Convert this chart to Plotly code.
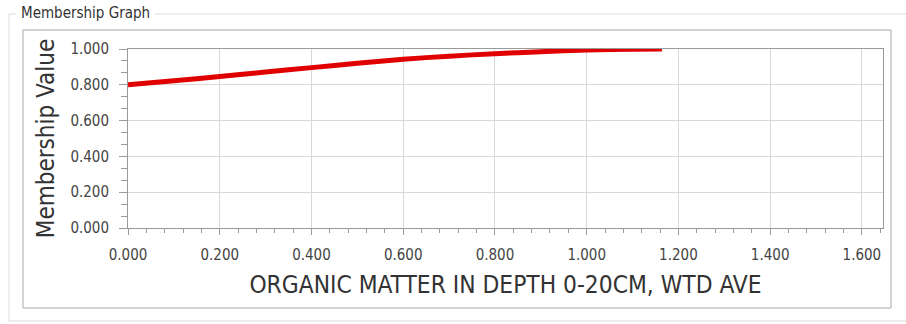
import plotly.graph_objects as go

# Data
organic_matter = [0.0, 0.1, 0.2, 0.3, 0.4, 0.5, 0.6, 0.7, 0.8, 0.9, 1.0, 1.1, 1.164]
membership = [0.800, 0.822, 0.846, 0.871, 0.896, 0.920, 0.943, 0.960, 0.974, 0.985, 0.994, 0.999, 1.000]

x_ticks = [0.0, 0.2, 0.4, 0.6, 0.8, 1.0, 1.2, 1.4, 1.6]
x_tick_labels = ["0.000", "0.200", "0.400", "0.600", "0.800", "1.000", "1.200", "1.400", "1.600"]
y_ticks = [0.0, 0.2, 0.4, 0.6, 0.8, 1.0]
y_tick_labels = ["0.000", "0.200", "0.400", "0.600", "0.800", "1.000"]

W, H = 906, 324
ML, MR, MT, MB = 128, 23, 49, 96
PW, PH = W - ML - MR, H - MT - MB
FONT = "DejaVu Sans Condensed, Liberation Sans"


def px(x):
    return (x - ML) / PW


def py(y):
    return (H - MB - y) / PH


fig = go.Figure()
fig.add_trace(go.Scatter(
    x=organic_matter, y=membership, mode="lines",
    line=dict(color="#e00000", width=5, shape="spline", smoothing=0.5),
    showlegend=False, hoverinfo="skip",
))

axis_common = dict(
    showline=True, linecolor="#9a9a9a", linewidth=1, mirror=True,
    showgrid=True, gridcolor="#d8d8d8", gridwidth=1, zeroline=False,
    ticks="outside", tickcolor="#9a9a9a",
    tickfont=dict(family=FONT, size=15, color="#444444"),
    automargin=False,
)

fig.update_xaxes(
    range=[0, 1.646], tickvals=x_ticks, ticktext=x_tick_labels,
    ticklen=6, ticklabelstandoff=7,
    minor=dict(dtick=0.04, tick0=0, ticks="outside", ticklen=4, tickcolor="#9a9a9a", showgrid=False),
    title=dict(text="ORGANIC MATTER IN DEPTH 0-20CM, WTD AVE",
               font=dict(family=FONT, size=24.3, color="#333333"), standoff=12),
    **axis_common,
)
fig.update_yaxes(
    range=[0, 1.0], tickvals=y_ticks, ticktext=y_tick_labels,
    ticklen=8, ticklabelstandoff=7,
    minor=dict(dtick=0.2 / 3, tick0=0, ticks="outside", ticklen=6, tickcolor="#9a9a9a", showgrid=False),
    title=dict(text="Membership Value",
               font=dict(family=FONT, size=24, color="#333333"), standoff=8),
    **axis_common,
)

shapes = []
# inner panel frame
shapes.append(dict(type="rect", xref="paper", yref="paper",
                   x0=px(23), x1=px(891), y0=py(308), y1=py(30),
                   line=dict(color="#a8a8a8", width=1), layer="below"))
# group box frame (light)
gb = "#dddddd"
shapes.append(dict(type="line", xref="paper", yref="paper", x0=px(9), x1=px(9), y0=py(14), y1=py(321), line=dict(color=gb, width=1)))
shapes.append(dict(type="line", xref="paper", yref="paper", x0=px(9), x1=px(906), y0=py(321), y1=py(321), line=dict(color=gb, width=1)))
shapes.append(dict(type="line", xref="paper", yref="paper", x0=px(9), x1=px(16), y0=py(14), y1=py(14), line=dict(color=gb, width=1)))
shapes.append(dict(type="line", xref="paper", yref="paper", x0=px(155), x1=px(906), y0=py(14), y1=py(14), line=dict(color=gb, width=1)))

fig.update_layout(
    width=W, height=H,
    margin=dict(l=ML, r=MR, t=MT, b=MB),
    paper_bgcolor="white", plot_bgcolor="white",
    shapes=shapes,
    annotations=[dict(text="Membership Graph", xref="paper", yref="paper",
                      x=px(19), y=py(13), xanchor="left", yanchor="middle",
                      showarrow=False,
                      font=dict(family=FONT, size=15, color="#333333"))],
)

fig.write_html(
    "out.html",
    config={"displayModeBar": False},
    post_script="document.body.style.margin='0';document.body.style.padding='0';document.body.style.overflow='hidden';",
)
